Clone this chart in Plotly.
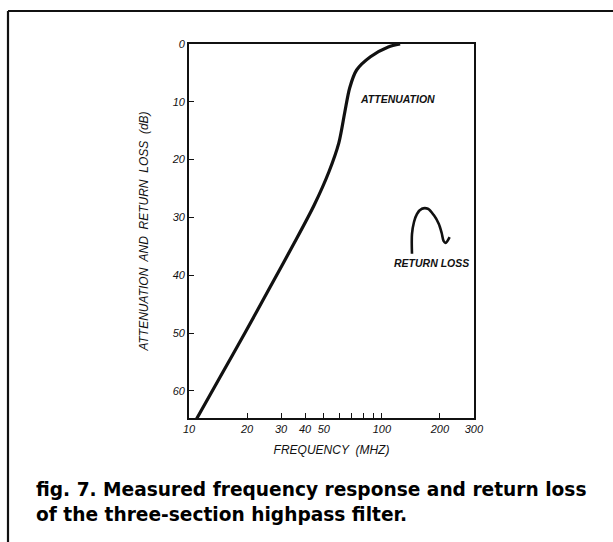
import numpy as np
import plotly.graph_objects as go

# Measured attenuation of the three-section highpass filter
atten_freq_mhz = [10.8, 14.5, 19.49, 26.18, 35.18, 44.53, 53.17, 59.84, 64.24, 68.1, 74.0, 87.3, 108.0, 124.4]
atten_db = [65.2, 57.6, 50.0, 42.2, 34.4, 27.9, 22.1, 17.1, 11.8, 7.6, 4.5, 2.2, 0.5, 0.0]

# Return loss sketch (hand-drawn loop with arrow tail)
rl_freq_mhz = [143.3, 143.3, 146.8, 152.1, 161.3, 173.2, 185.9, 197.2, 204.3, 209.2, 214.2, 224.6]
rl_db = [36.3, 32.9, 30.8, 29.4, 28.5, 28.5, 29.6, 31.1, 32.7, 34.1, 34.4, 33.4]

# Axis ticks
x_tick_vals = [10, 20, 30, 40, 50, 60, 70, 80, 90, 100, 200, 300]
x_tick_text = ["10", "20", "30", "40", "50", "", "", "", "", "100", "200", "300"]
y_tick_vals = [0, 10, 20, 30, 40, 50, 60]
y_tick_text = ["0", "10", "20", "30", "40", "50", "60"]

caption_lines = [
    "fig. 7. Measured frequency response and return loss",
    "of the three-section highpass filter.",
]

W, H = 613, 542
L, R, T, B = 189, 474, 44, 418  # plot area in pixels


def px_x(p):
    return (p - L) / (R - L)


def px_y(p):
    return (B - p) / (B - T)


ink = "#111111"
sans = "Liberation Sans, Arial, sans-serif"
label_font = dict(family=sans, size=11, color=ink, style="italic")

fig = go.Figure()
fig.add_trace(go.Scatter(
    x=atten_freq_mhz, y=atten_db, mode="lines",
    line=dict(color=ink, width=3.2, shape="spline", smoothing=0.8),
    hoverinfo="skip", showlegend=False,
))
fig.add_trace(go.Scatter(
    x=rl_freq_mhz, y=rl_db, mode="lines",
    line=dict(color=ink, width=2.6, shape="spline", smoothing=0.9),
    hoverinfo="skip", showlegend=False,
))

fig.update_xaxes(
    type="log", range=[np.log10(10), np.log10(300.5)],
    tickvals=x_tick_vals, ticktext=x_tick_text,
    ticks="inside", ticklen=5, tickwidth=1.3, tickcolor=ink,
    showline=True, linecolor=ink, linewidth=1.8, mirror=True,
    showgrid=False, zeroline=False,
    tickfont=label_font,
    title=dict(text="FREQUENCY  (MHZ)", font=dict(family=sans, size=12, color=ink, style="italic"), standoff=12),
)
fig.update_yaxes(
    range=[64.7, 0],
    tickvals=y_tick_vals, ticktext=y_tick_text,
    ticks="inside", ticklen=5, tickwidth=1.3, tickcolor=ink,
    showline=True, linecolor=ink, linewidth=1.8, mirror=True,
    showgrid=False, zeroline=False,
    tickfont=label_font,
    title=dict(text="ATTENUATION  AND  RETURN  LOSS  (dB)", font=dict(family=sans, size=12, color=ink, style="italic"), standoff=20),
)

annotations = [
    dict(text="ATTENUATION", x=px_x(397), y=px_y(99), xref="paper", yref="paper",
         xanchor="center", yanchor="middle", showarrow=False,
         font=dict(family=sans, size=10.5, color=ink, style="italic", weight="bold")),
    dict(text="RETURN LOSS", x=px_x(471), y=px_y(263), xref="paper", yref="paper",
         xanchor="right", yanchor="middle", showarrow=False,
         font=dict(family=sans, size=10.5, color=ink, style="italic", weight="bold")),
]
for i, line in enumerate(caption_lines):
    annotations.append(dict(
        text=line, x=px_x(34), y=px_y(489 + 25 * i), xref="paper", yref="paper",
        xanchor="left", yanchor="middle", showarrow=False,
        font=dict(family="DejaVu Sans, Liberation Sans, sans-serif", size=18.6, color="#000000", weight="bold"),
    ))

# Figure frame (top and left edges visible)
shapes = [
    dict(type="line", xref="paper", yref="paper", x0=px_x(8), x1=px_x(620), y0=px_y(11), y1=px_y(11),
         line=dict(color=ink, width=2.2)),
    dict(type="line", xref="paper", yref="paper", x0=px_x(8), x1=px_x(8), y0=px_y(11), y1=px_y(560),
         line=dict(color=ink, width=2.2)),
]

fig.update_layout(
    width=W, height=H,
    margin=dict(l=L, r=W - R, t=T, b=H - B),
    paper_bgcolor="white", plot_bgcolor="white",
    annotations=annotations, shapes=shapes,
    showlegend=False,
)

fig.write_html("out.html")
